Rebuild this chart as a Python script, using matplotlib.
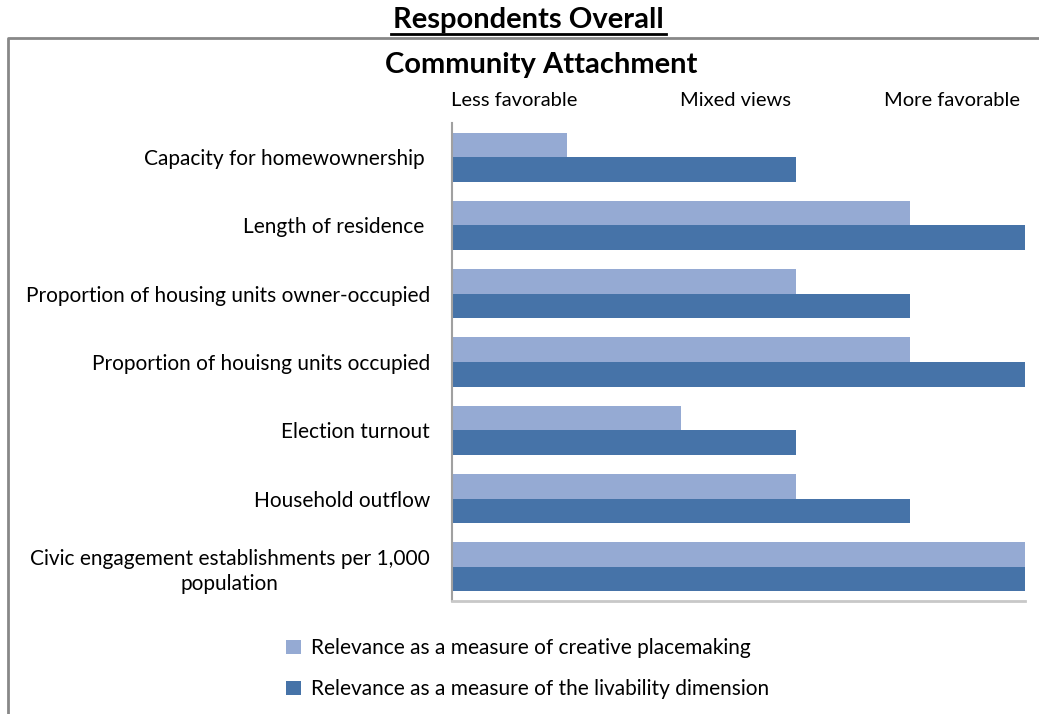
import matplotlib.pyplot as plt
import numpy as np
from matplotlib.lines import Line2D

categories = [
    'Capacity for homewownership ',
    'Length of residence ',
    'Proportion of housing units owner-occupied',
    'Proportion of houisng units occupied',
    'Election turnout',
    'Household outflow',
    'Civic engagement establishments per 1,000\npopulation',
]
creative = [1, 4, 3, 4, 2, 3, 5]
livability = [3, 5, 4, 5, 3, 4, 5]
series_names = ['Relevance as a measure of creative placemaking',
                'Relevance as a measure of the livability dimension']
scale_labels = ['Less favorable', 'Mixed views', 'More favorable']

plt.rcParams['font.family'] = ['Lato', 'DejaVu Sans']

fig = plt.figure(figsize=(10.39, 7.14), dpi=100)
ax = fig.add_axes([452 / 1039, 1 - 601 / 714, 573 / 1039, 478 / 714])

y = np.arange(len(categories))
h = 0.36
light = '#95AAD3'
dark = '#4673A8'
ax.barh(y - h / 2, creative, height=h, color=light, label=series_names[0])
ax.barh(y + h / 2, livability, height=h, color=dark, label=series_names[1])

ax.set_xlim(0, 5)
ax.set_ylim(len(categories) - 0.5, -0.5)
ax.set_xticks([])
ax.set_yticks(y)
ax.set_yticklabels(categories, fontsize=15, multialignment='center', linespacing=1.35)
ax.tick_params(axis='y', length=0, pad=16)
for s in ['top', 'right']:
    ax.spines[s].set_visible(False)
ax.spines['left'].set_color('#A0A0A0')
ax.spines['left'].set_linewidth(1.5)
ax.spines['bottom'].set_color('#C8C8C8')
ax.spines['bottom'].set_linewidth(2)

# scale labels across the top
for xp, lab in zip([514, 735, 952], scale_labels):
    fig.text(xp / 1039, 1 - 100 / 714, lab, ha='center', va='center', fontsize=14.5)

fig.text(541 / 1039, 1 - 65 / 714, 'Community Attachment', ha='center', va='center',
         fontsize=21, fontweight='bold')
fig.text(528 / 1039, 1 - 20 / 714, 'Respondents Overall', ha='center', va='center',
         fontsize=21, fontweight='bold')
fig.add_artist(Line2D([391 / 1039, 666 / 1039], [1 - 34 / 714, 1 - 34 / 714],
                      color='black', lw=2))

# outer chart frame
fig.add_artist(Line2D([8 / 1039, 8 / 1039, 1.0], [0, 1 - 38 / 714, 1 - 38 / 714],
                      color='#888888', lw=2))

fig.legend(loc='upper left', bbox_to_anchor=(278 / 1039, 1 - 630 / 714),
           frameon=False, fontsize=15, handlelength=0.7, handleheight=0.7,
           handletextpad=0.5, labelspacing=1.0, borderaxespad=0)

fig.savefig('out.png', dpi=100)
